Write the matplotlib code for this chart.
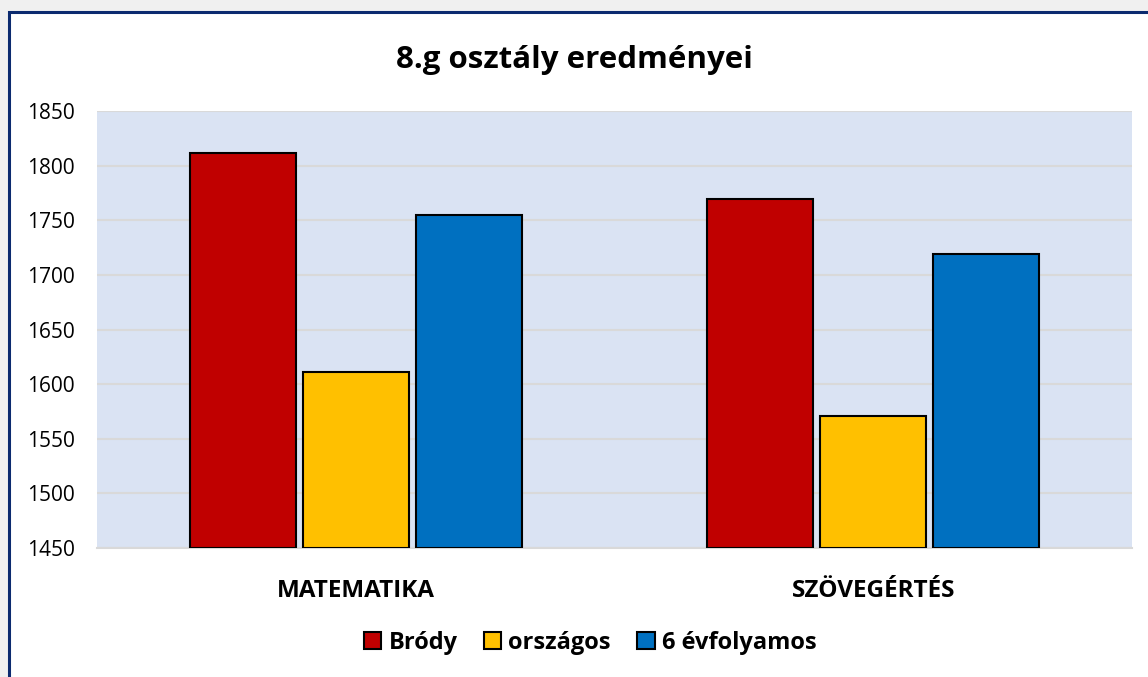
import matplotlib
matplotlib.use("Agg")
import matplotlib.pyplot as plt
import numpy as np
from matplotlib.patches import Rectangle

categories = ["MATEMATIKA", "SZÖVEGÉRTÉS"]
series_names = ["Bródy", "országos", "6 évfolyamos"]
brody = [1812, 1769]
orszagos = [1611, 1571]
evfolyamos6 = [1755, 1719]
yticks = [1450, 1500, 1550, 1600, 1650, 1700, 1750, 1800, 1850]
title = "8.g osztály eredményei"

colors = ["#c00000", "#ffc000", "#0070c0"]
font = ["Open Sans", "DejaVu Sans"]

W, H = 1148, 677
fig = plt.figure(figsize=(W / 100, H / 100), dpi=100)
fig.patch.set_facecolor("#f0f0f0")

# white chart box with navy border
box = Rectangle((9 / W, -0.1), 1.2, 1 - 12 / H + 0.1, transform=fig.transFigure,
                facecolor="white", edgecolor="#0b2a6f", linewidth=2.2, zorder=-5)
fig.patches.append(box)

ax = fig.add_axes([97 / W, 1 - 548 / H, (1132 - 97) / W, (548 - 111) / H])
ax.set_zorder(1)
ax.set_facecolor("#dae3f3")

x = np.arange(len(categories))
bw = 0.205
step = 0.218
for i, (vals, name) in enumerate(zip([brody, orszagos, evfolyamos6], series_names)):
    ax.bar(x + (i - 1) * step, np.array(vals) - 1450, bottom=1450, width=bw,
           color=colors[i], edgecolor="black", linewidth=1.5, label=name, zorder=3)

ax.set_xlim(-0.5, 1.5)
ax.set_ylim(1450, 1850)
ax.set_yticks(yticks)
ax.set_yticklabels([str(v) for v in yticks], fontsize=15, family=font)
ax.yaxis.grid(True, color="#d9d9d9", linewidth=1.5, zorder=1)
ax.set_axisbelow(True)
for s in ["left", "right", "top"]:
    ax.spines[s].set_visible(False)
ax.spines["bottom"].set_color("#d9d9d9")
ax.spines["bottom"].set_linewidth(1.5)
ax.tick_params(axis="y", length=0, pad=16)
ax.tick_params(axis="x", length=0, pad=22)
ax.set_xticks(x)
ax.set_xticklabels(categories, fontsize=17.5, fontweight="bold", family=font)

fig.text(0.5, 1 - 60 / H, title, ha="center", va="center", fontsize=22.5,
         fontweight="bold", family=font)

leg = fig.legend(loc="center", bbox_to_anchor=(590 / W, 1 - 643 / H), ncol=3,
                 frameon=False, prop={"family": font, "size": 17, "weight": "bold"},
                 handlelength=0.75, handleheight=0.75, handletextpad=0.3,
                 columnspacing=1.1)

fig.savefig("out.png", dpi=100, facecolor=fig.get_facecolor())
